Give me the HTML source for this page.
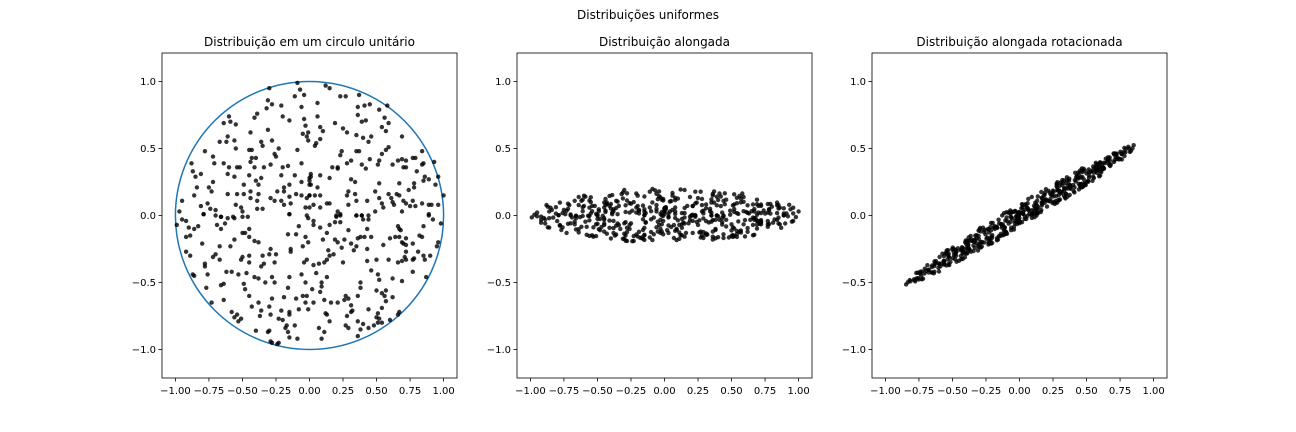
<!DOCTYPE html>
<html><head><meta charset="utf-8"><style>
html,body{margin:0;padding:0;background:#fff;}
svg{display:block;font-family:"DejaVu Sans","Liberation Sans",sans-serif;}
</style></head><body>
<svg id="fig" width="1296" height="432" viewBox="0 0 1296 432" xmlns="http://www.w3.org/2000/svg">
<rect width="1296" height="432" fill="#fff"/>
<text x="648" y="19" font-size="12" text-anchor="middle">Distribuições uniformes</text>
</svg>
<script>
const xs = [-0.09,-0.07,-0.11,-0.04,-0.30,-0.31,-0.28,-0.32,-0.21,-0.06,-0.60,-0.59,-0.55,-0.64,-0.39,-0.41,-0.20,-0.15,-0.04,-0.03,-0.44,-0.31,-0.05,-0.01,-0.61,-0.56,-0.62,-0.67,-0.36,-0.35,-0.28,-0.23,-0.45,-0.43,-0.55,-0.09,-0.26,-0.25,-0.78,-0.72,-0.43,-0.40,-0.71,-0.64,-0.44,-0.54,-0.52,-0.60,-0.41,-0.34,-0.29,-0.20,-0.16,-0.06,-0.88,-0.87,-0.85,-0.81,-0.61,-0.56,-0.45,-0.40,-0.36,-0.21,-0.11,0.00,0.01,-0.72,-0.75,-0.84,-0.49,-0.44,-0.38,-0.19,-0.15,-0.06,0.00,-0.73,-0.61,-0.54,-0.49,-0.38,-0.24,-0.19,-0.10,-0.06,0.00,-0.86,-0.95,-0.44,-0.39,-0.29,-0.21,-0.15,-0.76,-0.81,-0.55,-0.51,-0.39,-0.26,-0.19,-0.14,-0.74,-0.70,-0.50,-0.35,-0.15,-0.03,-0.97,-0.79,-0.66,-0.57,
0.12,0.15,0.23,0.27,0.37,0.06,0.36,0.41,0.45,0.52,0.58,0.06,0.36,0.39,0.42,0.56,0.59,0.19,0.08,0.10,0.25,0.28,0.54,0.57,-0.02,-0.01,0.35,0.40,0.46,0.44,0.69,0.08,0.05,0.04,0.24,0.23,0.35,0.37,0.54,0.57,0.59,0.84,0.31,0.28,0.45,0.52,0.51,0.62,0.66,0.69,0.72,0.77,0.79,0.85,0.84,0.93,0.17,0.21,0.21,0.39,0.42,0.72,0.70,0.80,0.86,0.89,0.85,0.94,0.96,0.01,0.00,0.08,0.15,0.01,0.06,0.31,0.34,0.52,0.67,0.78,0.78,1.00,0.29,0.34,0.28,0.49,0.59,0.74,0.00,0.04,0.08,-0.02,0.52,0.61,0.62,0.65,0.67,0.70,0.72,0.77,0.35,0.43,0.54,0.55,0.63,0.75,0.79,0.84,0.89,0.91,0.96,0.00,0.03,0.08,0.13,0.15,0.21,0.23,0.20,0.29,0.35,0.39,0.44,0.49,0.69,0.89,
-0.95,-0.92,-0.99,-0.90,-0.86,-0.83,-0.79,-0.70,-0.66,-0.61,-0.56,-0.50,-0.46,-0.69,-0.63,-0.66,-0.45,-0.50,-0.48,-0.45,-0.41,-0.38,-0.56,-0.59,-0.67,-0.80,-0.92,-0.89,-0.15,-0.01,-0.08,-0.16,-0.10,-0.03,-0.01,-0.14,-0.14,-0.05,-0.29,-0.30,-0.25,-0.35,-0.45,-0.50,-0.51,-0.45,-0.92,-0.89,-0.72,-0.70,-0.67,-0.78,-0.78,-0.34,-0.36,-0.26,-0.04,-0.62,-0.58,-0.53,-0.47,-0.87,-0.86,-0.76,-0.15,-0.06,-0.41,-0.38,-0.28,-0.33,-0.26,-0.03,-0.49,-0.48,-0.45,-0.66,-0.64,-0.77,-0.16,-0.05,-0.02,-0.64,-0.73,-0.28,-0.19,-0.10,-0.03,-0.43,-0.38,-0.36,-0.30,-0.21,-0.15,-0.15,-0.08,-0.01,-0.58,-0.54,-0.56,-0.51,-0.53,-0.37,-0.29,-0.23,-0.20,-0.17,-0.18,-0.11,-0.40,-0.31,-0.30,-0.16,-0.15,-0.09,-0.29,-0.28,-0.24,-0.23,
-0.02,0.03,0.08,0.03,0.15,0.19,0.23,0.20,0.23,0.35,0.39,0.40,0.44,0.43,0.29,0.13,0.10,0.19,0.21,0.26,0.36,0.38,0.41,0.46,0.31,0.35,0.24,0.14,0.15,0.18,0.33,0.43,0.55,0.60,0.64,0.67,0.72,0.69,0.70,0.72,0.77,0.66,0.67,0.68,0.82,0.84,0.85,0.89,0.92,0.98,0.96,0.95,0.81,0.85,0.86,0.90,0.72,0.71,0.72,0.69,0.66,0.77,0.78,0.50,0.59,0.43,0.25,0.03,0.07,0.11,0.13,-0.02,0.05,0.13,0.46,0.51,0.52,0.62,0.69,0.77,0.87,0.09,0.09,0.08,0.02,0.11,0.03,0.16,0.21,0.27,0.26,0.29,0.31,0.38,0.38,0.36,0.50,0.54,0.57,0.56,0.62,0.57,0.54,0.44,0.51,0.50,0.52,0.51,0.54,0.48,0.44,0.60,0.67,0.66,0.31,0.32,0.28,0.12,0.13,0.15,0.11,0.07,0.29,0.36,0.40,0.27,0.36,0.38,0.09];
const ys = [0.99,0.94,0.89,0.90,0.95,0.86,0.83,0.80,0.82,0.81,0.74,0.70,0.68,0.69,0.76,0.73,0.74,0.71,0.72,0.67,0.62,0.64,0.61,0.62,0.59,0.56,0.55,0.55,0.55,0.52,0.56,0.50,0.49,0.49,0.50,0.49,0.46,0.44,0.48,0.44,0.43,0.43,0.39,0.39,0.40,0.36,0.36,0.36,0.36,0.36,0.38,0.36,0.37,0.39,0.39,0.33,0.29,0.31,0.31,0.29,0.30,0.26,0.28,0.30,0.30,0.28,0.31,0.25,0.21,0.21,0.23,0.18,0.23,0.21,0.23,0.25,0.23,0.18,0.16,0.16,0.16,0.16,0.18,0.18,0.16,0.15,0.15,0.15,0.11,0.13,0.11,0.13,0.11,0.14,0.09,0.07,0.08,0.06,0.05,0.11,0.08,0.09,0.05,0.04,0.03,0.05,0.01,0.06,0.03,0.01,-0.01,-0.01,
0.97,0.95,0.89,0.89,0.90,0.84,0.81,0.82,0.83,0.79,0.82,0.74,0.75,0.70,0.71,0.73,0.69,0.69,0.66,0.63,0.65,0.62,0.66,0.63,0.59,0.56,0.60,0.58,0.59,0.55,0.59,0.57,0.54,0.52,0.48,0.45,0.48,0.48,0.46,0.49,0.51,0.48,0.41,0.39,0.42,0.41,0.38,0.38,0.41,0.42,0.41,0.43,0.43,0.39,0.38,0.40,0.36,0.36,0.35,0.38,0.35,0.36,0.36,0.33,0.29,0.27,0.26,0.23,0.29,0.29,0.26,0.30,0.28,0.23,0.21,0.27,0.25,0.24,0.24,0.24,0.21,0.15,0.18,0.16,0.15,0.18,0.16,0.19,0.15,0.15,0.15,0.13,0.13,0.13,0.10,0.16,0.15,0.11,0.09,0.11,0.11,0.11,0.09,0.06,0.08,0.07,0.07,0.09,0.08,0.08,0.08,0.06,0.08,0.06,0.09,0.09,0.03,0.00,-0.01,0.08,0.00,0.00,0.00,0.03,0.03,0.01,
-0.03,-0.04,-0.07,-0.09,-0.10,-0.08,0.01,0.00,-0.01,-0.02,-0.02,-0.01,-0.01,-0.07,-0.06,-0.10,-0.10,-0.13,-0.13,-0.16,-0.19,-0.20,-0.18,-0.23,-0.23,-0.21,-0.16,-0.15,0.01,-0.02,-0.08,-0.14,-0.14,-0.16,-0.20,-0.25,-0.27,-0.23,-0.25,-0.29,-0.29,-0.30,-0.30,-0.31,-0.33,-0.35,-0.27,-0.30,-0.31,-0.29,-0.33,-0.36,-0.38,-0.36,-0.38,-0.35,-0.35,-0.42,-0.42,-0.44,-0.43,-0.44,-0.45,-0.44,-0.46,-0.44,-0.46,-0.47,-0.46,-0.50,-0.50,-0.50,-0.51,-0.55,-0.60,-0.52,-0.51,-0.54,-0.54,-0.60,-0.60,-0.63,-0.65,-0.62,-0.61,-0.62,-0.65,-0.68,-0.65,-0.71,-0.68,-0.71,-0.72,-0.74,-0.70,-0.70,-0.72,-0.74,-0.76,-0.77,-0.79,-0.75,-0.74,-0.77,-0.78,-0.82,-0.84,-0.82,-0.86,-0.87,-0.86,-0.87,-0.91,-0.92,-0.94,-0.95,-0.96,-0.95,
0.00,-0.07,-0.09,-0.04,-0.07,-0.05,-0.05,0.00,0.01,0.00,0.00,-0.03,-0.03,-0.10,-0.11,-0.13,-0.18,-0.18,-0.20,-0.18,-0.17,-0.16,-0.16,-0.16,-0.21,-0.23,-0.24,-0.26,-0.30,-0.29,-0.26,-0.25,-0.22,-0.17,-0.16,-0.16,-0.17,-0.20,-0.21,-0.22,-0.21,-0.08,-0.10,-0.11,-0.15,-0.16,-0.08,0.00,-0.03,-0.06,-0.20,-0.23,-0.27,-0.30,-0.33,-0.30,-0.27,-0.31,-0.33,-0.34,-0.35,-0.33,-0.32,-0.33,-0.33,-0.34,-0.35,-0.37,-0.36,-0.35,-0.33,-0.33,-0.43,-0.46,-0.41,-0.44,-0.48,-0.47,-0.49,-0.42,-0.46,-0.50,-0.53,-0.57,-0.55,-0.63,-0.65,-0.65,-0.65,-0.60,-0.63,-0.62,-0.67,-0.50,-0.54,-0.60,-0.56,-0.58,-0.56,-0.60,-0.61,-0.64,-0.69,-0.70,-0.73,-0.76,-0.77,-0.80,-0.80,-0.82,-0.84,-0.78,-0.72,-0.74,-0.72,-0.71,-0.75,-0.73,-0.74,-0.79,-0.87,-0.84,-0.84,-0.79,-0.81,-0.82,-0.90,-0.85,-0.92];
const stretchY = 0.2;
const rotatedWidth = 0.075;
const rotationDeg = 31;
const xTickVals = [-1.00,-0.75,-0.50,-0.25,0.00,0.25,0.50,0.75,1.00];
const xTickLabels = ["−1.00","−0.75","−0.50","−0.25","0.00","0.25","0.50","0.75","1.00"];
const yTickVals = [-1.0,-0.5,0.0,0.5,1.0];
const yTickLabels = ["−1.0","−0.5","0.0","0.5","1.0"];
const panelTitles = ["Distribuição em um circulo unitário","Distribuição alongada","Distribuição alongada rotacionada"];

const NS="http://www.w3.org/2000/svg";
const svg=document.getElementById('fig');
function mk(tag,attrs,parent){const e=document.createElementNS(NS,tag);for(const k in attrs)e.setAttribute(k,attrs[k]);(parent||svg).appendChild(e);return e;}
const panels=[{l:162,slug:'circle'},{l:517,slug:'elongated'},{l:872,slug:'rotated'}];
const W=295,T=53,H=325,XL=[-1.1,1.1],YL=[-1.213,1.213];
const th=rotationDeg*Math.PI/180;
panels.forEach((p,i)=>{
  const sx=v=>p.l+(v-XL[0])/(XL[1]-XL[0])*W;
  const sy=v=>T+H-(v-YL[0])/(YL[1]-YL[0])*H;
  const g=mk('g',{});
  
  
  const t=mk('text',{x:p.l+W/2,y:46,'font-size':12,'text-anchor':'middle'},g);
  t.textContent=panelTitles[i];
  
  
  if(i===0){
    const c=mk('ellipse',{cx:sx(0),cy:sy(0),rx:sx(1)-sx(0),ry:sy(0)-sy(1),fill:'none',stroke:'#1f77b4','stroke-width':1.5},g);
    
    
  }
  const pts=mk('g',{fill:'#000','fill-opacity':0.8},g);
  
  
  for(let k=0;k<xs.length;k++){
    let x=xs[k],y=ys[k];
    if(i===1){y=y*stretchY;}
    if(i===2){y=y*rotatedWidth;const nx=x*Math.cos(th)-y*Math.sin(th);const ny=x*Math.sin(th)+y*Math.cos(th);x=nx;y=ny;}
    const d=mk('circle',{cx:sx(x).toFixed(1),cy:sy(y).toFixed(1),r:2.2},pts);
    
    
  }
  const fr=mk('rect',{x:p.l,y:T,width:W,height:H,fill:'none',stroke:'#000','stroke-width':0.8},g);
  
  
  xTickVals.forEach((v,j)=>{
    const X=sx(v);
    const tk=mk('line',{x1:X,x2:X,y1:T+H,y2:T+H+3.5,stroke:'#000','stroke-width':0.8},g);
    
    
    const lb=mk('text',{x:X,y:T+H+16,'font-size':10,'text-anchor':'middle'},g);
    lb.textContent=xTickLabels[j];
    
    
  });
  yTickVals.forEach((v,j)=>{
    const Y=sy(v);
    const tk=mk('line',{x1:p.l-3.5,x2:p.l,y1:Y,y2:Y,stroke:'#000','stroke-width':0.8},g);
    
    
    const lb=mk('text',{x:p.l-6,y:Y+3.5,'font-size':10,'text-anchor':'end'},g);
    lb.textContent=yTickLabels[j];
    
    
  });
});
</script>
</body></html>
